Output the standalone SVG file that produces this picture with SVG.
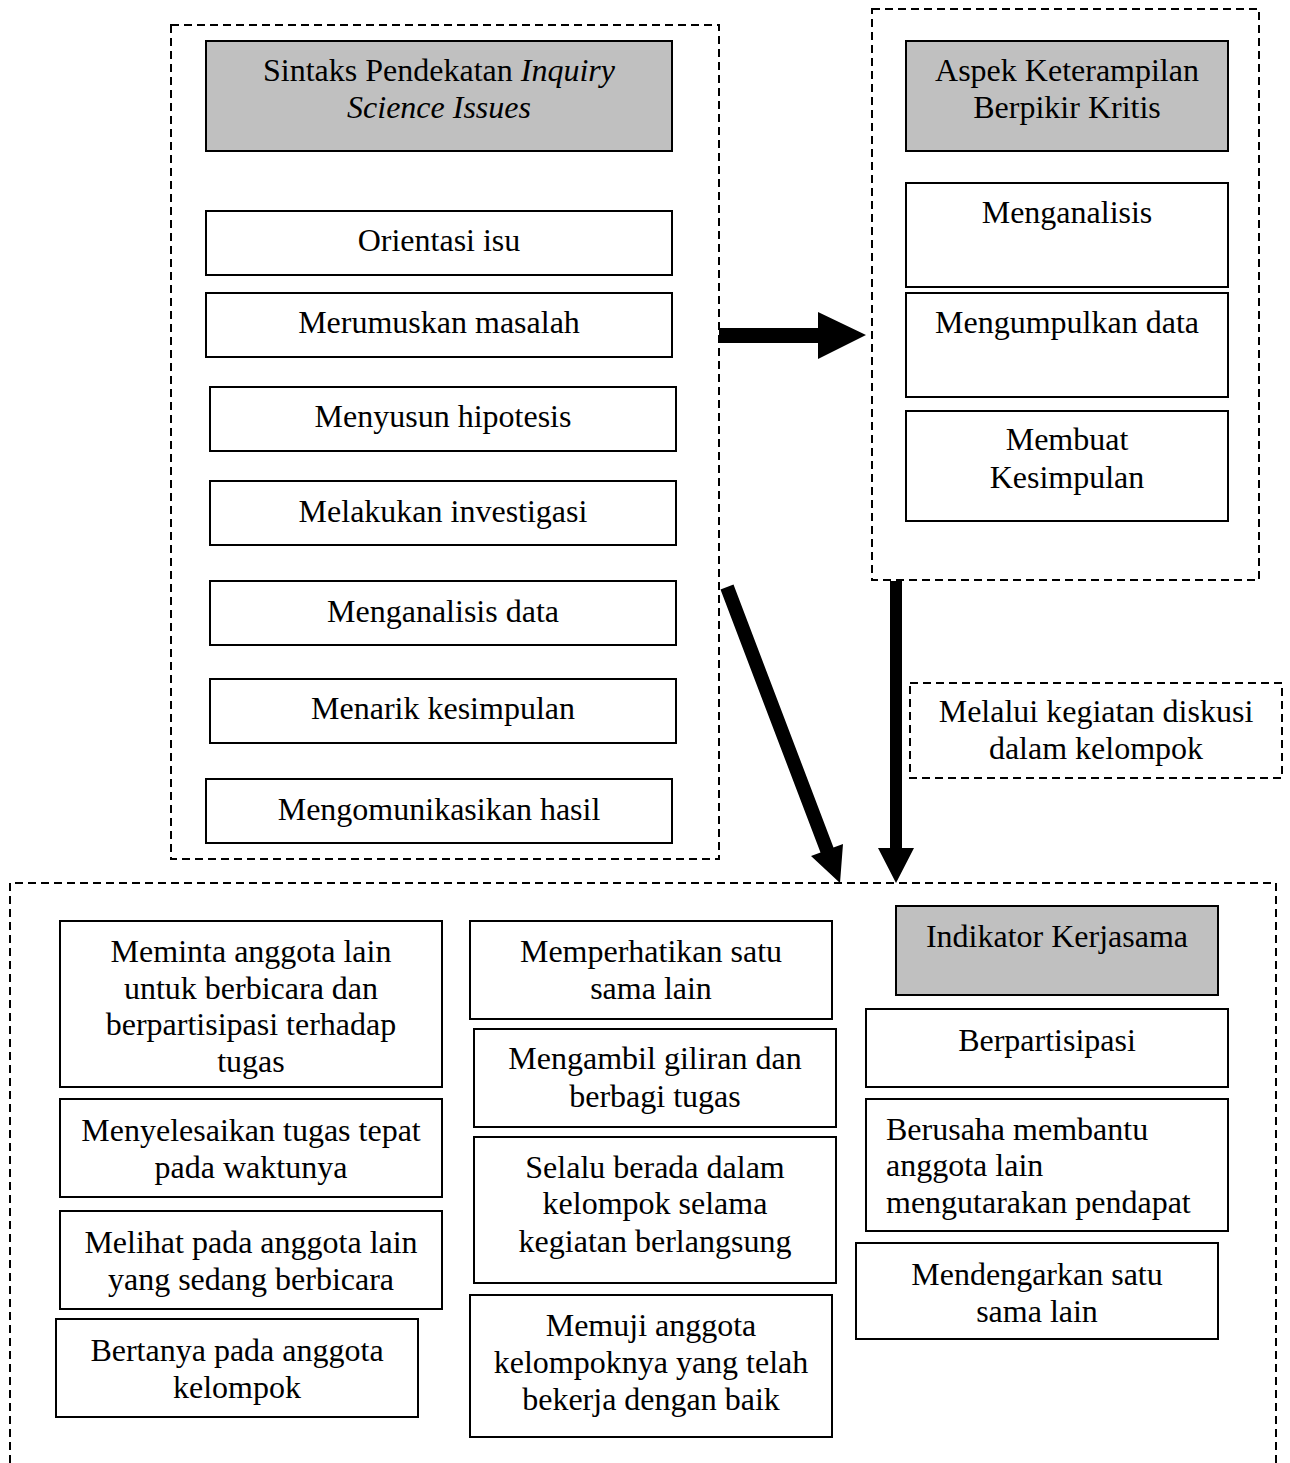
<svg xmlns="http://www.w3.org/2000/svg" width="1290" height="1463" viewBox="0 0 1290 1463">
<style>
text{font-family:"Liberation Serif","Times New Roman",serif;font-size:32px;fill:#000;text-anchor:middle}
.b{fill:#fff;stroke:#000;stroke-width:2}
.h{fill:#c0c0c0;stroke:#000;stroke-width:2}
.d{fill:none;stroke:#000;stroke-width:2;stroke-dasharray:8 5}
.l{text-anchor:start}
</style>
<rect width="1290" height="1463" fill="#fff"/>
<g id="groups">
<rect class="d" x="171" y="25" width="548" height="834"/>
<rect class="d" x="872" y="9" width="387" height="571"/>
<path class="d" d="M10 1463 V883 H1276 V1463"/>
</g>
<g id="connectors">
<polygon points="719,328 818,328 818,312 866,335 818,359 818,343 719,343" fill="#000"/>
<polygon points="890,581 902,581 902,848 914,848 896,883 878,848 890,848" fill="#000"/>
<polygon points="720.5,589.5 733.5,584.5 833.5,847.5 843,844 840,883 811,856 820.5,852.5" fill="#000"/>
</g>
<g id="n-sintaks"><rect class="h" x="206" y="41" width="466" height="110"/><text x="439" y="81">Sintaks Pendekatan <tspan font-style="italic">Inquiry</tspan></text><text x="439" y="118" font-style="italic">Science Issues</text></g>
<g id="n-orientasi"><rect class="b" x="206" y="211" width="466" height="64"/><text x="439" y="251">Orientasi isu</text></g>
<g id="n-merumuskan"><rect class="b" x="206" y="293" width="466" height="64"/><text x="439" y="333">Merumuskan masalah</text></g>
<g id="n-menyusun"><rect class="b" x="210" y="387" width="466" height="64"/><text x="443" y="427">Menyusun hipotesis</text></g>
<g id="n-melakukan"><rect class="b" x="210" y="481" width="466" height="64"/><text x="443" y="522">Melakukan investigasi</text></g>
<g id="n-menganalisis-data"><rect class="b" x="210" y="581" width="466" height="64"/><text x="443" y="622">Menganalisis data</text></g>
<g id="n-menarik"><rect class="b" x="210" y="679" width="466" height="64"/><text x="443" y="719">Menarik kesimpulan</text></g>
<g id="n-mengomunikasikan"><rect class="b" x="206" y="779" width="466" height="64"/><text x="439" y="820">Mengomunikasikan hasil</text></g>
<g id="n-aspek"><rect class="h" x="906" y="41" width="322" height="110"/><text x="1067" y="81">Aspek Keterampilan</text><text x="1067" y="118">Berpikir Kritis</text></g>
<g id="n-menganalisis"><rect class="b" x="906" y="183" width="322" height="104"/><text x="1067" y="223">Menganalisis</text></g>
<g id="n-mengumpulkan"><rect class="b" x="906" y="293" width="322" height="104"/><text x="1067" y="333">Mengumpulkan data</text></g>
<g id="n-membuat"><rect class="b" x="906" y="411" width="322" height="110"/><text x="1067" y="450">Membuat</text><text x="1067" y="488">Kesimpulan</text></g>
<g id="n-melalui"><rect class="d" x="910" y="683" width="372" height="95"/><text x="1096" y="722">Melalui kegiatan diskusi</text><text x="1096" y="759">dalam kelompok</text></g>
<g id="n-meminta"><rect class="b" x="60" y="921" width="382" height="166"/><text x="251" y="962">Meminta anggota lain</text><text x="251" y="999">untuk berbicara dan</text><text x="251" y="1035">berpartisipasi terhadap</text><text x="251" y="1072">tugas</text></g>
<g id="n-menyelesaikan"><rect class="b" x="60" y="1099" width="382" height="98"/><text x="251" y="1141">Menyelesaikan tugas tepat</text><text x="251" y="1178">pada waktunya</text></g>
<g id="n-melihat"><rect class="b" x="60" y="1211" width="382" height="98"/><text x="251" y="1253">Melihat pada anggota lain</text><text x="251" y="1290">yang sedang berbicara</text></g>
<g id="n-bertanya"><rect class="b" x="56" y="1319" width="362" height="98"/><text x="237" y="1361">Bertanya pada anggota</text><text x="237" y="1398">kelompok</text></g>
<g id="n-memperhatikan"><rect class="b" x="470" y="921" width="362" height="98"/><text x="651" y="962">Memperhatikan satu</text><text x="651" y="999">sama lain</text></g>
<g id="n-mengambil"><rect class="b" x="474" y="1029" width="362" height="98"/><text x="655" y="1069">Mengambil giliran dan</text><text x="655" y="1107">berbagi tugas</text></g>
<g id="n-selalu"><rect class="b" x="474" y="1137" width="362" height="146"/><text x="655" y="1178">Selalu berada dalam</text><text x="655" y="1214">kelompok selama</text><text x="655" y="1252">kegiatan berlangsung</text></g>
<g id="n-memuji"><rect class="b" x="470" y="1295" width="362" height="142"/><text x="651" y="1336">Memuji anggota</text><text x="651" y="1373">kelompoknya yang telah</text><text x="651" y="1410">bekerja dengan baik</text></g>
<g id="n-indikator"><rect class="h" x="896" y="906" width="322" height="89"/><text x="1057" y="947">Indikator Kerjasama</text></g>
<g id="n-berpartisipasi"><rect class="b" x="866" y="1009" width="362" height="78"/><text x="1047" y="1051">Berpartisipasi</text></g>
<g id="n-berusaha"><rect class="b" x="866" y="1099" width="362" height="132"/><text class="l" x="886" y="1140">Berusaha membantu</text><text class="l" x="886" y="1176">anggota lain</text><text class="l" x="886" y="1213">mengutarakan pendapat</text></g>
<g id="n-mendengarkan"><rect class="b" x="856" y="1243" width="362" height="96"/><text x="1037" y="1285">Mendengarkan satu</text><text x="1037" y="1322">sama lain</text></g>
</svg>
